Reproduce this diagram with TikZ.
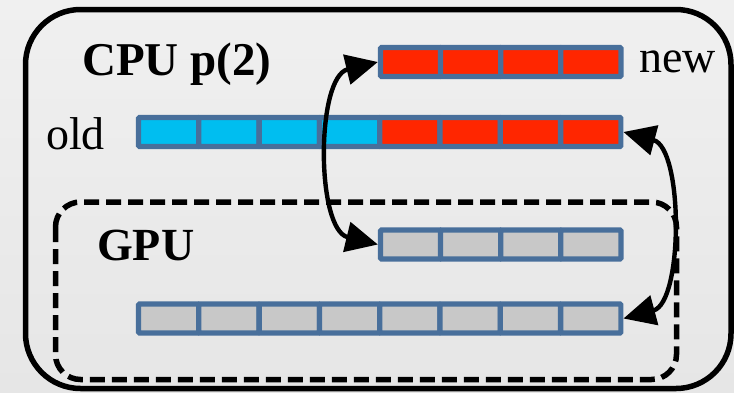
\documentclass[tikz,border=0pt]{standalone}
\usepackage{fontspec}
\setmainfont{Liberation Serif}
\usetikzlibrary{arrows.meta}

\definecolor{celledge}{RGB}{72,111,155}
\definecolor{newred}{RGB}{255,38,0}
\definecolor{oldcyan}{RGB}{0,190,240}
\definecolor{gpugray}{RGB}{200,200,200}
\definecolor{bgtop}{RGB}{240,240,240}
\definecolor{bgbottom}{RGB}{230,230,230}

\tikzset{
  cell/.style={draw=celledge, line width=5.2pt, minimum width=60.2pt,
    minimum height=29pt, inner sep=0pt, rounded corners=1pt},
  lbl/.style={inner sep=0pt, anchor=base west,
    font=\fontsize{46pt}{50pt}\selectfont},
  xfer/.style={line width=4.4pt,
    {Triangle[length=32pt,width=30pt]}-{Triangle[length=32pt,width=30pt]}},
}

\begin{document}
\begin{tikzpicture}[x=1pt,y=-1pt]
  % page background
  \shade[top color=bgtop, bottom color=bgbottom] (0,0) rectangle (734,392);
  \useasboundingbox (0,0) rectangle (734,392);

  % host process frame and device frame
  \draw[line width=5.5pt, rounded corners=55pt] (25.5,9.5) rectangle (731,388.5);
  \draw[line width=5.5pt, dash pattern=on 15pt off 7pt, rounded corners=25pt]
    (55.5,202) rectangle (676.5,379.5);

  % labels
  \node[lbl, font=\fontsize{47pt}{50pt}\selectfont\bfseries] (cpu) at (82,75) {CPU p(2)};
  \node[lbl] (old) at (46,149) {old};
  \node[lbl] (new) at (639,72) {new};
  \node[lbl, font=\fontsize{46pt}{50pt}\selectfont\bfseries] (gpu) at (97,260) {GPU};

  % CPU buffers
  \foreach \i in {1,...,4}
    \node[cell, fill=newred] (new\i) at ({380.5+60.1*(\i-0.5)},62) {};
  \foreach \i in {1,...,8} {
    \ifnum\i<5 \def\cellfill{oldcyan}\else \def\cellfill{newred}\fi
    \node[cell, fill=\cellfill] (old\i) at ({138.5+60.3*(\i-0.5)},132) {};
  }

  % GPU buffers
  \foreach \i in {1,...,4}
    \node[cell, fill=gpugray] (gt\i) at ({380.5+60.1*(\i-0.5)},244.5) {};
  \foreach \i in {1,...,8}
    \node[cell, fill=gpugray] (gb\i) at ({138.5+60.3*(\i-0.5)},318.5) {};

  % host <-> device transfers
  \draw[xfer] (new1.west) .. controls +(-62,15) and +(-62,-15) .. (gt1.west);
  \draw[xfer] (old8.east) .. controls +(60,16) and +(60,-16) .. (gb8.east);
\end{tikzpicture}
\end{document}
